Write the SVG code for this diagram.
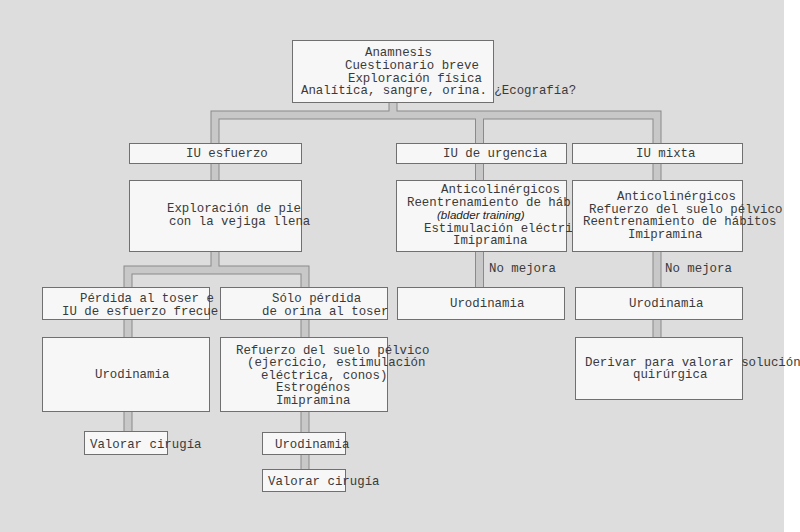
<svg xmlns="http://www.w3.org/2000/svg" width="800" height="532" viewBox="0 0 800 532">
<style>
.bg{fill:#dddddd}
.box{fill:#f7f7f7;stroke:#707070;stroke-width:1}
.po{fill:none;stroke:#8a8a8a;stroke-width:9;stroke-linejoin:miter}
.pi{fill:none;stroke:#c8c8c8;stroke-width:7;stroke-linejoin:miter}
text{font-family:"Liberation Mono","DejaVu Sans Mono",monospace;font-size:12.4px;fill:#3a3a3a}
.it{font-family:"Liberation Sans",Arial,sans-serif;font-style:italic;font-size:11.6px;fill:#222}
</style>
<defs>
<path id="pipes" d="M393,100 V115 M215,146 V115 H657 V146 M479.5,115 V146 M215,160 V183 M215,248 V270 M128,290 V270 H305 V290 M128,316 V340 M128,408 V434 M305,316 V340 M305,408 V435 M305,451 V472 M479.5,160 V183 M479.5,248 V290 M657,160 V183 M657,248 V290 M657,316 V340"/>
</defs>
<rect class="bg" x="0" y="0" width="784" height="532"/>
<rect x="784" y="0" width="16" height="532" fill="#ffffff"/>
<g id="connectors">
<use href="#pipes" class="po"/>
<use href="#pipes" class="pi"/>
<text x="489" y="272">No mejora</text>
<text x="665" y="272">No mejora</text>
</g>
<g id="n-top">
<rect class="box" x="292.5" y="40.5" width="201" height="62"/>
<text x="365" y="56">Anamnesis</text>
<text x="345" y="69">Cuestionario breve</text>
<text x="348" y="81.5">Exploración física</text>
<text x="301" y="94">Analítica, sangre, orina. ¿Ecografía?</text>
</g>
<g id="n-esfuerzo">
<rect class="box" x="129.5" y="143.5" width="172" height="20"/>
<text x="186" y="157">IU esfuerzo</text>
</g>
<g id="n-urgencia">
<rect class="box" x="396.5" y="143.5" width="170" height="20"/>
<text x="443" y="157">IU de urgencia</text>
</g>
<g id="n-mixta">
<rect class="box" x="572.5" y="143.5" width="170" height="20"/>
<text x="636" y="157">IU mixta</text>
</g>
<g id="n-exploracion">
<rect class="box" x="129.5" y="180.5" width="172" height="71"/>
<text x="167" y="212">Exploración de pie</text>
<text x="169" y="224.5">con la vejiga llena</text>
</g>
<g id="n-anticol1">
<rect class="box" x="396.5" y="180.5" width="170" height="71"/>
<text x="441" y="193">Anticolinérgicos</text>
<text x="407" y="205.5">Reentrenamiento de háb</text>
<text class="it" x="437" y="219">(bladder training)</text>
<text x="424" y="231.5">Estimulación eléctri</text>
<text x="453" y="244">Imipramina</text>
</g>
<g id="n-anticol2">
<rect class="box" x="572.5" y="180.5" width="170" height="71"/>
<text x="617" y="200">Anticolinérgicos</text>
<text x="589" y="212.5">Refuerzo del suelo pélvico</text>
<text x="583" y="225">Reentrenamiento de hábitos</text>
<text x="628" y="237.5">Imipramina</text>
</g>
<g id="n-perdida">
<rect class="box" x="42.5" y="287.5" width="167" height="32"/>
<text x="80" y="302">Pérdida al toser e</text>
<text x="62" y="314.5">IU de esfuerzo frecue</text>
</g>
<g id="n-solo">
<rect class="box" x="220.5" y="287.5" width="167" height="32"/>
<text x="272" y="302">Sólo pérdida</text>
<text x="262" y="314.5">de orina al toser</text>
</g>
<g id="n-uro-urg">
<rect class="box" x="397.5" y="287.5" width="167" height="32"/>
<text x="450" y="306.5">Urodinamia</text>
</g>
<g id="n-uro-mixta">
<rect class="box" x="575.5" y="287.5" width="167" height="32"/>
<text x="629" y="306.5">Urodinamia</text>
</g>
<g id="n-uro-left">
<rect class="box" x="42.5" y="337.5" width="167" height="74"/>
<text x="95" y="378">Urodinamia</text>
</g>
<g id="n-refuerzo">
<rect class="box" x="220.5" y="337.5" width="167" height="74"/>
<text x="236" y="353.5">Refuerzo del suelo pélvico</text>
<text x="247" y="366">(ejercicio, estimulación</text>
<text x="261" y="378.5">eléctrica, conos)</text>
<text x="276" y="391">Estrogénos</text>
<text x="276" y="403.5">Imipramina</text>
</g>
<g id="n-derivar">
<rect class="box" x="575.5" y="337.5" width="167" height="62"/>
<text x="585" y="365.5">Derivar para valorar solución</text>
<text x="633" y="378">quirúrgica</text>
</g>
<g id="n-valorar1">
<rect class="box" x="84.5" y="431.5" width="83" height="23"/>
<text x="90" y="447.5">Valorar cirugía</text>
</g>
<g id="n-uro-small">
<rect class="box" x="262.5" y="432.5" width="83" height="22"/>
<text x="275" y="447.5">Urodinamia</text>
</g>
<g id="n-valorar2">
<rect class="box" x="262.5" y="469.5" width="83" height="22"/>
<text x="268" y="485">Valorar cirugía</text>
</g>
</svg>
